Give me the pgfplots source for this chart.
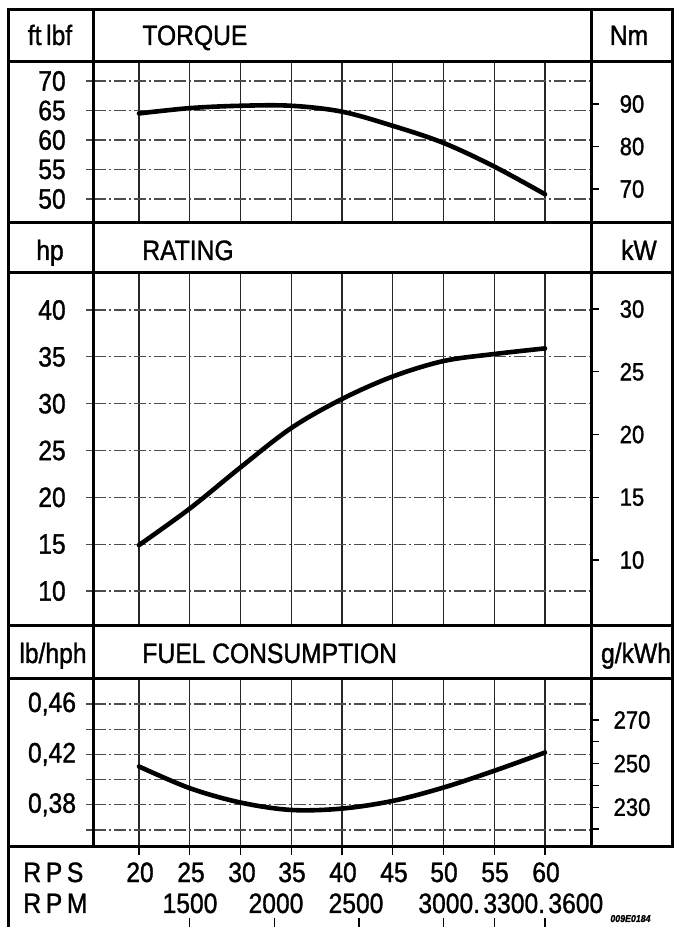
\documentclass[border=0pt]{standalone}
\usepackage{pgfplots}
\pgfplotsset{compat=1.18}
\usepackage{fontspec}
\setmainfont[FakeStretch=0.88, FakeBold=1.2]{Liberation Sans}
\newcommand{\fbig}{\fontsize{14}{16}\selectfont}
\newcommand{\fmid}{\fontsize{12.5}{14}\selectfont}

\pgfplotsset{
  panel/.style={
    scale only axis, width=248.5pt, xmin=15.567, xmax=64.53,
    axis line style={draw=none},
    xtick={20,25,...,60}, xticklabels={},
    xmajorgrids, major x grid style={black!85, line width=0.65pt},
    ymajorgrids, major y grid style={black!70, line width=0.6pt, dash pattern=on 6pt off 1.5pt on 1pt off 1.5pt},
    x tick style={draw=none},
    ytick pos=left, tick align=outside, major tick length=4pt,
    y tick style={black!70, line width=0.6pt},
    yticklabel style={anchor=center, xshift=-17pt, font=\fbig},
    clip=false,
  },
  rpanel/.style={
    scale only axis, width=248.5pt, xmin=15.567, xmax=64.53,
    axis line style={draw=none},
    xtick=\empty,
    ytick pos=right, yticklabel pos=right, tick align=outside, major tick length=4pt,
    y tick style={black, line width=0.6pt},
    yticklabel style={anchor=center, xshift=16.5pt, font=\fmid},
  },
  curve/.style={black, line width=2.3pt, line cap=round, smooth, tension=0.55, no marks},
}

\begin{document}
\begin{tikzpicture}[x=0.5pt,y=0.5pt]
\useasboundingbox (0,0) rectangle (676,927);

% ---------- TORQUE ----------
\begin{axis}[panel, at={(47pt,352pt)}, anchor=south west, height=80.5pt,
  ymin=45.93, ymax=73.22, ytick={50,55,60,65,70}, yticklabels={50,55,60,65,70}]
\addplot[curve] coordinates {(20,64.5) (25,65.4) (30,65.8) (35,65.8) (40,64.8) (45,62.4) (50,59.5) (55,55.5) (60,50.8)};
\end{axis}
\begin{axis}[rpanel, at={(47pt,352pt)}, anchor=south west, height=80.5pt,
  ymin=62.0, ymax=99.88, ytick={70,80,90}, yticklabels={70,80,90}]
\end{axis}

% ---------- RATING ----------
\begin{axis}[panel, at={(47pt,150.5pt)}, anchor=south west, height=176.5pt,
  ymin=6.264, ymax=43.95, ytick={10,15,...,40}, yticklabels={10,15,20,25,30,35,40}]
\addplot[curve] coordinates {(20,14.9) (25,18.8) (30,23.2) (35,27.4) (40,30.5) (45,32.9) (50,34.55) (55,35.3) (60,35.9)};
\end{axis}
\begin{axis}[rpanel, at={(47pt,150.5pt)}, anchor=south west, height=176.5pt,
  ymin=4.741, ymax=32.87, ytick={10,15,20,25,30}, yticklabels={10,15,20,25,30}]
\end{axis}

% ---------- FUEL CONSUMPTION ----------
\begin{axis}[panel, at={(47pt,40pt)}, anchor=south west, height=84pt,
  ymin=0.34651, ymax=0.47984, ytick={0.36,0.38,0.40,0.42,0.44,0.46},
  yticklabels={{},{0,38},{},{0,42},{},{0,46}}]
\addplot[curve] coordinates {(20,0.4104) (25,0.3932) (30,0.3818) (35,0.3759) (40,0.3770) (45,0.3831) (50,0.3937) (55,0.4070) (60,0.4215)};
\end{axis}
\begin{axis}[rpanel, at={(47pt,40pt)}, anchor=south west, height=84pt,
  ymin=211.74, ymax=288.81, ytick={220,230,...,270}, yticklabels={{},230,{},250,{},270}]
\end{axis}

% ---------- bottom row ticks ----------
\begin{axis}[scale only axis, width=248.5pt, height=40pt, at={(47pt,0pt)}, anchor=south west,
  xmin=15.567, xmax=64.53, ymin=0, ymax=1, axis line style={draw=none},
  xtick={20,25,...,60}, xticklabels={}, xtick pos=upper, tick align=inside, major tick length=4pt,
  x tick style={black, line width=0.7pt}, ytick=\empty]
\end{axis}
\begin{axis}[scale only axis, width=248.5pt, height=40pt, at={(47pt,0pt)}, anchor=south west,
  xmin=15.567, xmax=64.53, ymin=0, ymax=1, axis line style={draw=none},
  xtick={25,33.333,41.667,50,55,60}, xticklabels={}, xtick pos=lower, tick align=inside, major tick length=4.5pt,
  x tick style={black, line width=0.7pt}, ytick=\empty]
\end{axis}

% ---------- table frame ----------
\begin{scope}[line width=1.5pt, line cap=rect]
\draw (8,0) -- (8,917) -- (672,917) -- (672,80);
\draw (93,917) -- (93,80);
\draw (591,917) -- (591,80);
\foreach \yy in {865,704,654,301,248,80} \draw (8,\yy) -- (672,\yy);
\end{scope}

% ---------- header texts ----------
\fbig
\node[anchor=base] at (50,882) {ft\,lbf};
\node[anchor=base west, inner sep=0] at (142,882) {TORQUE};
\node[anchor=base] at (629,882) {Nm};
\node[anchor=base] at (50,667) {hp};
\node[anchor=base west, inner sep=0] at (142,667) {RATING};
\node[anchor=base] at (639,667) {kW};
\node[anchor=base, inner sep=0] at (53,264) {lb/hph};
\node[anchor=base west, inner sep=0] at (142,264) {FUEL CONSUMPTION};
\node[anchor=base, inner sep=0] at (636,264) {g/kWh};

% ---------- bottom row texts ----------
\node[anchor=base west, inner sep=0] at (23,45) {R\,P\,S};
\node[anchor=base west, inner sep=0] at (23,14) {R\,P\,M};
\foreach \xx/\lab in {140/20,191/25,242/30,292/35,343/40,394/45,444/50,495/55,546/60}
  \node[anchor=base, inner sep=0] at (\xx,45) {\lab};
\node[anchor=base, inner sep=0] at (190,14) {1500};
\node[anchor=base, inner sep=0] at (276,14) {2000};
\node[anchor=base, inner sep=0] at (356,14) {2500};
\node[anchor=base west, inner sep=0] at (418,14) {3000.};
\node[anchor=base west, inner sep=0] at (483,14) {3300.};
\node[anchor=base west, inner sep=0] at (548,14) {3600};
\node[anchor=base west, inner sep=0, font=\fontsize{5}{6}\selectfont\bfseries\itshape] at (610,5) {009E0184};
\end{tikzpicture}
\end{document}
